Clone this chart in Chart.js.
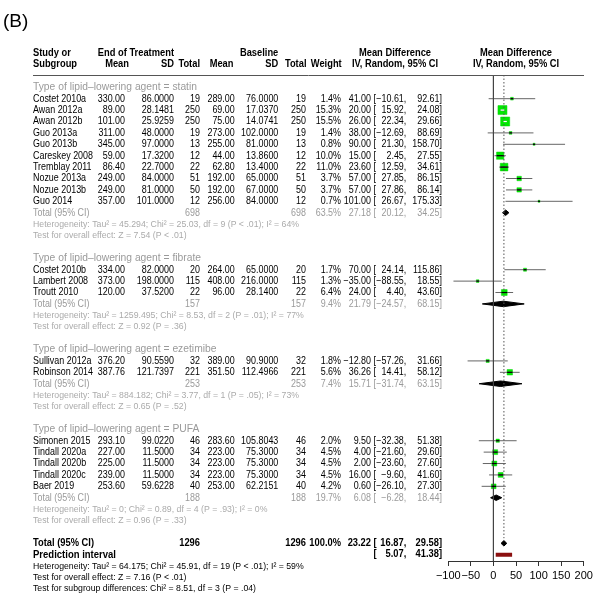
<!DOCTYPE html>
<html><head><meta charset="utf-8">
<script src="https://cdn.jsdelivr.net/npm/chart.js@4.4.0/dist/chart.umd.min.js"></script>
<style>html,body{margin:0;padding:0;background:#fff}#wrap{width:600px;height:615px;position:relative}</style>
</head><body><div id="wrap"><canvas id="c"></canvas></div>
<script>
// ---------- DATA ----------
const groupNames = ['statin', 'fibrate', 'ezetimibe', 'PUFA'];
const studyNames = ['Costet 2010a','Awan 2012a','Awan 2012b','Guo 2013a','Guo 2013b','Careskey 2008','Tremblay 2011','Nozue 2013a','Nozue 2013b','Guo 2014',
  'Costet 2010b','Lambert 2008','Troutt 2010',
  'Sullivan 2012a','Robinson 2014',
  'Simonen 2015','Tindall 2020a','Tindall 2020b','Tindall 2020c','Baer 2019'];
const studyGroup = [0,0,0,0,0,0,0,0,0,0, 1,1,1, 2,2, 3,3,3,3,3];
const trtMean = [330.00,89.00,101.00,311.00,345.00,59.00,86.40,249.00,249.00,357.00, 334.00,373.00,120.00, 376.20,387.76, 293.10,227.00,225.00,239.00,253.60];
const trtSD   = [86.0000,28.1481,25.9259,48.0000,97.0000,17.3200,22.7000,84.0000,81.0000,101.0000, 82.0000,198.0000,37.5200, 90.5590,121.7397, 99.0220,11.5000,11.5000,11.5000,59.6228];
const trtN    = [19,250,250,19,13,12,22,51,50,12, 20,115,22, 32,221, 46,34,34,34,40];
const baseMean= [289.00,69.00,75.00,273.00,255.00,44.00,62.80,192.00,192.00,256.00, 264.00,408.00,96.00, 389.00,351.50, 283.60,223.00,223.00,223.00,253.00];
const baseSD  = [76.0000,17.0370,14.0741,102.0000,81.0000,13.8600,13.4000,65.0000,67.0000,84.0000, 65.0000,216.0000,28.1400, 90.9000,112.4966, 105.8043,75.3000,75.3000,75.3000,62.2151];
const baseN   = [19,250,250,19,13,12,22,51,50,12, 20,115,22, 32,221, 46,34,34,34,40];
const weights = [1.4,15.3,15.5,1.4,0.8,10.0,11.0,3.7,3.7,0.7, 1.7,1.3,6.4, 1.8,5.6, 2.0,4.5,4.5,4.5,4.2];
const md      = [41.00,20.00,26.00,38.00,90.00,15.00,23.60,57.00,57.00,101.00, 70.00,-35.00,24.00, -12.80,36.26, 9.50,4.00,2.00,16.00,0.60];
const ciLo    = [-10.61,15.92,22.34,-12.69,21.30,2.45,12.59,27.85,27.86,26.67, 24.14,-88.55,4.40, -57.26,14.41, -32.38,-21.60,-23.60,-9.60,-26.10];
const ciHi    = [92.61,24.08,29.66,88.69,158.70,27.55,34.61,86.15,86.14,175.33, 115.86,18.55,43.60, 31.66,58.12, 51.38,29.60,27.60,41.60,27.30];
const subN      = [698, 157, 253, 188];
const subWeight = [63.5, 9.4, 7.4, 19.7];
const subMD     = [27.18, 21.79, 15.71, 6.08];
const subLo     = [20.12, -24.57, -31.74, -6.28];
const subHi     = [34.25, 68.15, 63.15, 18.44];
const subHet = [
  'Heterogeneity: Tau\u00b2 = 45.294; Chi\u00b2 = 25.03, df = 9 (P < .01); I\u00b2 = 64%',
  'Heterogeneity: Tau\u00b2 = 1259.495; Chi\u00b2 = 8.53, df = 2 (P = .01); I\u00b2 = 77%',
  'Heterogeneity: Tau\u00b2 = 884.182; Chi\u00b2 = 3.77, df = 1 (P = .05); I\u00b2 = 73%',
  'Heterogeneity: Tau\u00b2 = 0; Chi\u00b2 = 0.89, df = 4 (P = .93); I\u00b2 = 0%'];
const subTest = [
  'Test for overall effect: Z = 7.54 (P < .01)',
  'Test for overall effect: Z = 0.92 (P = .36)',
  'Test for overall effect: Z = 0.65 (P = .52)',
  'Test for overall effect: Z = 0.96 (P = .33)'];
const totalN = 1296;
const totalMD = 23.22, totalLo = 16.87, totalHi = 29.58;
const piLo = 5.07, piHi = 41.38;
const overallLines = [
  'Heterogeneity: Tau\u00b2 = 64.175; Chi\u00b2 = 45.91, df = 19 (P < .01); I\u00b2 = 59%',
  'Test for overall effect: Z = 7.16 (P < .01)',
  'Test for subgroup differences: Chi\u00b2 = 8.51, df = 3 (P = .04)'];
const xTicks = [-100, -50, 0, 50, 100, 150, 200];

// ---------- ROW LAYOUT ----------
const rows = [];
const studyRow = [];
let rr = 0;
groupNames.forEach((g, gi) => {
  rows.push({kind: 'group', gi, r: rr++});
  studyNames.forEach((s, i) => { if (studyGroup[i] === gi) { studyRow[i] = rr; rows.push({kind: 'study', i, r: rr++}); } });
  rows.push({kind: 'total', gi, r: rr++});
  rows.push({kind: 'het', gi, r: rr++});
  rows.push({kind: 'test', gi, r: rr++});
  rr++;
});
const overallRow = rr;
rows.push({kind: 'overall', r: rr++});
const piRow = rr;
rows.push({kind: 'pi', r: rr++});
overallLines.forEach((t, k) => rows.push({kind: 'oline', k, r: rr++}));

// ---------- DATASETS ----------
const datasets = [];
const Y_MIN = -1.079, Y_MAX = 41.55;
datasets.push({data: [{x: 0, y: Y_MIN}, {x: 0, y: Y_MAX}], showLine: true, borderColor: '#444', borderWidth: 1, pointRadius: 0});
datasets.push({data: [{x: totalMD, y: Y_MIN}, {x: totalMD, y: overallRow - 0.45}], showLine: true, borderColor: '#555', borderWidth: 1, borderDash: [1.5, 2], pointRadius: 0});
studyNames.forEach((s, i) => {
  datasets.push({data: [{x: ciLo[i], y: studyRow[i]}, {x: ciHi[i], y: studyRow[i]}], showLine: true, borderColor: '#666', borderWidth: 1, pointRadius: 0});
});
const sqSide = w => Math.max(2, 2.3 * Math.sqrt(w));
datasets.push({data: studyNames.map((s, i) => ({x: md[i], y: studyRow[i]})), showLine: false, pointStyle: 'rect',
  pointRadius: weights.map(w => sqSide(w) / 1.4142), backgroundColor: 'rgb(0,232,0)', borderColor: 'rgb(0,215,0)', borderWidth: 0.5});
const HH = 0.24;
function diamond(est, lo, hi, r, color) {
  datasets.push({data: [{x: lo, y: r}, {x: est, y: r - HH}, {x: hi, y: r}, {x: est, y: r + HH}, {x: lo, y: r}],
    showLine: true, fill: 'shape', backgroundColor: color, borderColor: color, borderWidth: 1, pointRadius: 0});
}
groupNames.forEach((g, gi) => {
  const tr = rows.find(o => o.kind === 'total' && o.gi === gi).r;
  diamond(subMD[gi], subLo[gi], subHi[gi], tr, '#000');
});
diamond(totalMD, totalLo, totalHi, overallRow, '#000');
datasets.push({data: [{x: piLo, y: piRow}, {x: piHi, y: piRow}], showLine: true, borderColor: '#8b1010', borderWidth: 4, borderCapStyle: 'butt', pointRadius: 0});

// ---------- TEXT ----------
const F = "'Liberation Sans', Arial, Helvetica, sans-serif";
const SZ = 10.2, SZG = 10.5, SZB = 10, SZS = 9, SZP = 11;
const SX = {r: 1, g: 1, b: 1, s: 1, o: 1, p: 1};
const fmt = (v, d) => (v < 0 ? '\u2212' : '') + Math.abs(v).toFixed(d);
const COL = {study: 33, m1: 125, s1: 174, n1: 200, m2: 234.7, s2: 278.3, n2: 306, w: 341, est: 371, lb: 373.5, lo: 410, hi: 442};
function calibrate(ctx) {
  const m = (font, s) => { ctx.font = font; return ctx.measureText(s).width; };
  SX.r = 60 / m(SZ + 'px ' + F, 'Careskey 2008');
  SX.g = 164 / m(SZG + 'px ' + F, 'Type of lipid\u2013lowering agent = statin');
  SX.b = 61 / m('bold ' + SZB + 'px ' + F, 'Total (95% CI)');
  SX.s = 266 / m(SZS + 'px ' + F, subHet[0]);
  SX.o = 223 / m(SZS + 'px ' + F, overallLines[2]);
  SX.p = 83 / m('bold ' + SZP + 'px ' + F, 'Prediction interval');
  // lower bounds right-aligned so the widest one sits just after the bracket
  const allLo = ciLo.concat(subLo);
  let wmax = 0;
  allLo.forEach(v => { wmax = Math.max(wmax, m(SZ + 'px ' + F, fmt(v, 2) + ',') * SX.r); });
  const wb = m(SZ + 'px ' + F, '[') * SX.r;
  COL.lo = COL.lb + wb + wmax + 0.3;
}
function txt(ctx, s, x, y, align, size, color, bold, sx) {
  ctx.save();
  ctx.font = (bold ? 'bold ' : '') + size + 'px ' + F;
  ctx.fillStyle = color;
  ctx.textBaseline = 'middle';
  ctx.textAlign = align;
  ctx.translate(x, y);
  ctx.scale(sx === undefined ? (bold ? SX.b : SX.r) : sx, 1);
  ctx.fillText(s, 0, 0);
  ctx.restore();
}
function ci(ctx, y, est, lo, hi, size, color, bold) {
  if (est !== null) txt(ctx, fmt(est, 2), COL.est, y, 'right', size, color, bold);
  txt(ctx, '[', COL.lb, y, 'left', size, color, bold);
  txt(ctx, fmt(lo, 2) + ',', COL.lo, y, 'right', size, color, bold);
  txt(ctx, fmt(hi, 2) + ']', COL.hi, y, 'right', size, color, bold);
}
const GRAY = '#9a9a9a', LGRAY = '#ababab';
const tablePlugin = {
  id: 'table',
  afterDatasetsDraw(chart) {
    const ctx = chart.ctx, xs = chart.scales.x, ys = chart.scales.y;
    studyNames.forEach((s, i) => {
      const px = xs.getPixelForValue(md[i]), py = ys.getPixelForValue(studyRow[i]);
      const half = sqSide(weights[i]) / 2;
      const lp = xs.getPixelForValue(ciLo[i]), hp = xs.getPixelForValue(ciHi[i]);
      const inside = lp >= px - half && hp <= px + half;
      ctx.save();
      ctx.strokeStyle = inside ? '#fff' : '#000';
      ctx.lineWidth = 1.2;
      ctx.beginPath();
      ctx.moveTo(Math.max(lp, px - half), py);
      ctx.lineTo(Math.min(hp, px + half), py);
      ctx.stroke();
      ctx.restore();
    });
  },
  afterDraw(chart) {
    const ctx = chart.ctx, ys = chart.scales.y;
    calibrate(ctx);
    txt(ctx, '(B)', 3, 22, 'left', 19, '#000', false, 1);
    const h1 = 53.5, h2 = 64.5;
    txt(ctx, 'Study or', COL.study, h1, 'left', SZB, '#000', true);
    txt(ctx, 'Subgroup', COL.study, h2, 'left', SZB, '#000', true);
    txt(ctx, 'End of Treatment', COL.s1, h1, 'right', SZB, '#000', true);
    txt(ctx, 'Baseline', COL.s2, h1, 'right', SZB, '#000', true);
    txt(ctx, 'Mean', 129, h2, 'right', SZB, '#000', true);
    txt(ctx, 'SD', COL.s1, h2, 'right', SZB, '#000', true);
    txt(ctx, 'Total', COL.n1, h2, 'right', SZB, '#000', true);
    txt(ctx, 'Mean', 233.5, h2, 'right', SZB, '#000', true);
    txt(ctx, 'SD', COL.s2, h2, 'right', SZB, '#000', true);
    txt(ctx, 'Total', 306.5, h2, 'right', SZB, '#000', true);
    txt(ctx, 'Weight', 341.7, h2, 'right', SZB, '#000', true);
    txt(ctx, 'Mean Difference', 395, h1, 'center', SZB, '#000', true);
    txt(ctx, 'IV, Random, 95% CI', 395, h2, 'center', SZB, '#000', true);
    txt(ctx, 'Mean Difference', 516, h1, 'center', SZB, '#000', true);
    txt(ctx, 'IV, Random, 95% CI', 516, h2, 'center', SZB, '#000', true);
    ctx.save();
    ctx.strokeStyle = '#555'; ctx.lineWidth = 1;
    ctx.beginPath(); ctx.moveTo(33, 75.5); ctx.lineTo(584, 75.5); ctx.stroke();
    ctx.restore();
    rows.forEach(o => {
      const y = ys.getPixelForValue(o.r);
      if (o.kind === 'group') {
        txt(ctx, 'Type of lipid\u2013lowering agent = ' + groupNames[o.gi], COL.study, y, 'left', SZG, GRAY, false, SX.g);
      } else if (o.kind === 'study') {
        const i = o.i;
        txt(ctx, studyNames[i], COL.study, y, 'left', SZ, '#000');
        txt(ctx, trtMean[i].toFixed(2), COL.m1, y, 'right', SZ, '#000');
        txt(ctx, trtSD[i].toFixed(4), COL.s1, y, 'right', SZ, '#000');
        txt(ctx, String(trtN[i]), COL.n1, y, 'right', SZ, '#000');
        txt(ctx, baseMean[i].toFixed(2), COL.m2, y, 'right', SZ, '#000');
        txt(ctx, baseSD[i].toFixed(4), COL.s2, y, 'right', SZ, '#000');
        txt(ctx, String(baseN[i]), COL.n2, y, 'right', SZ, '#000');
        txt(ctx, weights[i].toFixed(1) + '%', COL.w, y, 'right', SZ, '#000');
        ci(ctx, y, md[i], ciLo[i], ciHi[i], SZ, '#000', false);
      } else if (o.kind === 'total') {
        const g = o.gi;
        txt(ctx, 'Total (95% CI)', COL.study, y, 'left', SZ, GRAY);
        txt(ctx, String(subN[g]), COL.n1, y, 'right', SZ, GRAY);
        txt(ctx, String(subN[g]), COL.n2, y, 'right', SZ, GRAY);
        txt(ctx, subWeight[g].toFixed(1) + '%', COL.w, y, 'right', SZ, GRAY);
        ci(ctx, y, subMD[g], subLo[g], subHi[g], SZ, GRAY, false);
      } else if (o.kind === 'het') {
        txt(ctx, subHet[o.gi], COL.study, y, 'left', SZS, LGRAY, false, SX.s);
      } else if (o.kind === 'test') {
        txt(ctx, subTest[o.gi], COL.study, y, 'left', SZS, LGRAY, false, SX.s);
      } else if (o.kind === 'overall') {
        txt(ctx, 'Total (95% CI)', COL.study, y, 'left', SZB, '#000', true);
        txt(ctx, String(totalN), COL.n1, y, 'right', SZB, '#000', true);
        txt(ctx, String(totalN), COL.n2, y, 'right', SZB, '#000', true);
        txt(ctx, '100.0%', COL.w, y, 'right', SZB, '#000', true);
        ci(ctx, y, totalMD, totalLo, totalHi, SZB, '#000', true);
      } else if (o.kind === 'pi') {
        txt(ctx, 'Prediction interval', COL.study, y, 'left', SZP, '#000', true, SX.p);
        ci(ctx, y, null, piLo, piHi, SZB, '#000', true);
      } else if (o.kind === 'oline') {
        txt(ctx, overallLines[o.k], COL.study, y, 'left', SZS, '#000', false, SX.o);
      }
    });
  }
};

new Chart(document.getElementById('c'), {
  type: 'scatter',
  data: {datasets},
  options: {
    responsive: true, maintainAspectRatio: false, animation: false,
    layout: {padding: {left: 448.3, right: 16.3, top: 75, bottom: 34}},
    plugins: {legend: {display: false}, tooltip: {enabled: false}},
    elements: {line: {tension: 0}},
    scales: {
      x: {type: 'linear', min: -100, max: 200,
        afterBuildTicks: s => { s.ticks = xTicks.map(v => ({value: v})); },
        afterFit: s => { s.height = 20; },
        grid: {display: true, drawOnChartArea: false, drawTicks: true, tickLength: 5, color: '#333'},
        border: {display: true, color: '#333', width: 1},
        ticks: {color: '#000', padding: 3, maxRotation: 0, autoSkip: false, font: {family: F, size: 11},
          callback: v => (v < 0 ? '\u2212' : '') + Math.abs(v)}
      },
      y: {type: 'linear', display: false, reverse: true, min: Y_MIN, max: Y_MAX}
    }
  },
  plugins: [tablePlugin]
});
</script></body></html>
